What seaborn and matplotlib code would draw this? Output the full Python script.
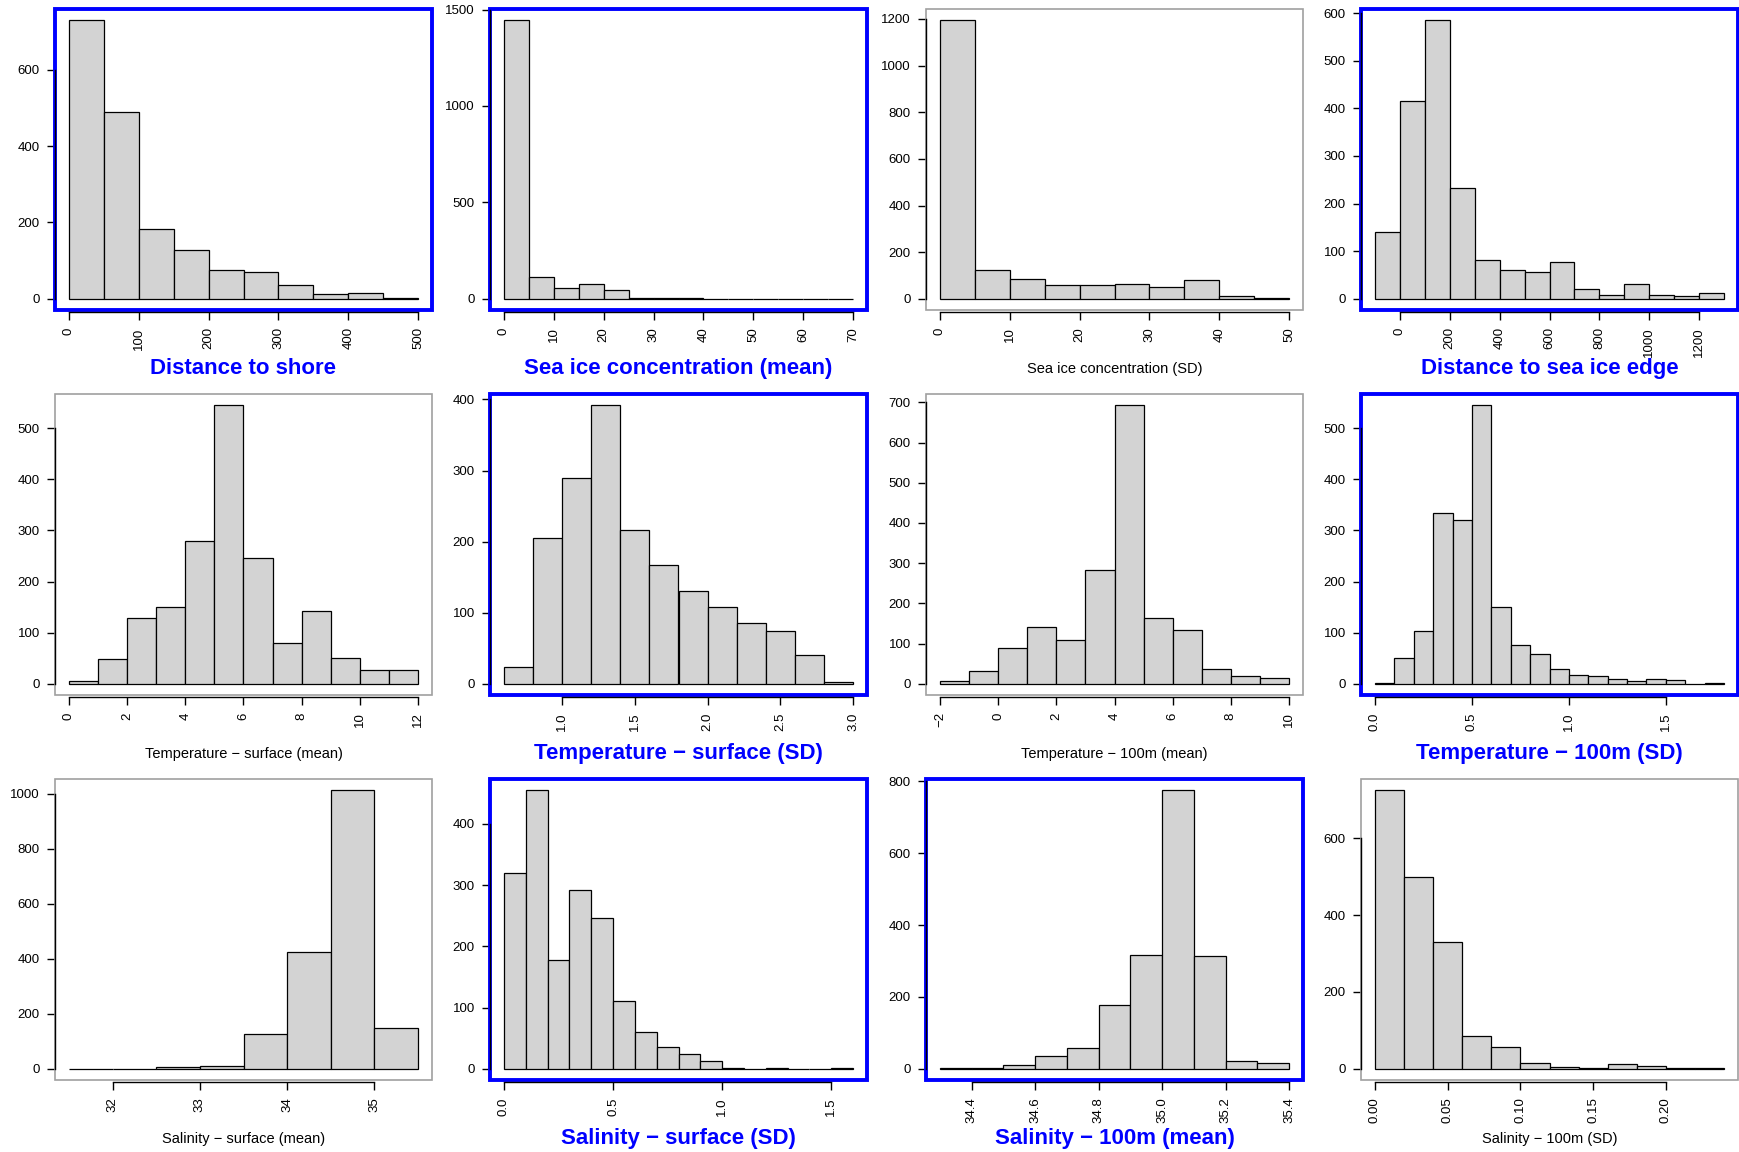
import matplotlib
matplotlib.use('Agg')
import matplotlib.pyplot as plt
from matplotlib.patches import Rectangle
import seaborn as sns
import numpy as np
import pandas as pd

# bin counts (R hist style)
shore_counts = [730, 490, 182, 128, 75, 70, 37, 12, 15, 3]
ice_mean_counts = [1445, 115, 55, 75, 45, 5, 3, 5, 0, 0, 0, 0, 0, 1]
ice_sd_counts = [1195, 125, 85, 60, 58, 63, 52, 80, 12, 4]
ice_edge_counts = [140, 415, 585, 232, 82, 60, 57, 78, 20, 8, 32, 8, 6, 13]
temp_surf_mean_counts = [5, 48, 128, 150, 280, 545, 247, 80, 142, 50, 27, 28]
temp_surf_sd_counts = [23, 205, 290, 392, 217, 167, 130, 108, 85, 75, 40, 3]
temp_100_mean_counts = [8, 32, 90, 142, 110, 283, 693, 163, 135, 38, 20, 15]
temp_100_sd_counts = [1, 50, 103, 335, 321, 545, 150, 75, 58, 30, 17, 15, 10, 5, 10, 7, 0, 2]
sal_surf_mean_counts = [1, 1, 7, 12, 125, 423, 1013, 148]
sal_surf_sd_counts = [320, 455, 177, 292, 246, 111, 60, 35, 25, 13, 1, 0, 2, 0, 0, 1]
sal_100_mean_counts = [3, 2, 12, 37, 58, 177, 316, 775, 315, 22, 15]
sal_100_sd_counts = [725, 500, 330, 85, 58, 15, 4, 1, 12, 8, 3, 1]

# break ranges (first, last break) for each histogram
shore_range = (0, 500)
ice_mean_range = (0, 70)
ice_sd_range = (0, 50)
ice_edge_range = (-100, 1300)
temp_surf_mean_range = (0, 12)
temp_surf_sd_range = (0.6, 3.0)
temp_100_mean_range = (-2, 10)
temp_100_sd_range = (0, 1.8)
sal_surf_mean_range = (31.5, 35.5)
sal_surf_sd_range = (0, 1.6)
sal_100_mean_range = (34.3, 35.4)
sal_100_sd_range = (0, 0.24)

# axis tick values
shore_xticks = [0, 100, 200, 300, 400, 500]
ice_mean_xticks = [0, 10, 20, 30, 40, 50, 60, 70]
ice_sd_xticks = [0, 10, 20, 30, 40, 50]
ice_edge_xticks = [0, 200, 400, 600, 800, 1000, 1200]
temp_surf_mean_xticks = [0, 2, 4, 6, 8, 10, 12]
temp_surf_sd_xticks = [1.0, 1.5, 2.0, 2.5, 3.0]
temp_100_mean_xticks = [-2, 0, 2, 4, 6, 8, 10]
temp_100_sd_xticks = [0.0, 0.5, 1.0, 1.5]
sal_surf_mean_xticks = [32, 33, 34, 35]
sal_surf_sd_xticks = [0.0, 0.5, 1.0, 1.5]
sal_100_mean_xticks = [34.4, 34.6, 34.8, 35.0, 35.2, 35.4]
sal_100_sd_xticks = [0.00, 0.05, 0.10, 0.15, 0.20]

shore_yticks = [0, 200, 400, 600]
ice_mean_yticks = [0, 500, 1000, 1500]
ice_sd_yticks = [0, 200, 400, 600, 800, 1000, 1200]
ice_edge_yticks = [0, 100, 200, 300, 400, 500, 600]
temp_surf_mean_yticks = [0, 100, 200, 300, 400, 500]
temp_surf_sd_yticks = [0, 100, 200, 300, 400]
temp_100_mean_yticks = [0, 100, 200, 300, 400, 500, 600, 700]
temp_100_sd_yticks = [0, 100, 200, 300, 400, 500]
sal_surf_mean_yticks = [0, 200, 400, 600, 800, 1000]
sal_surf_sd_yticks = [0, 100, 200, 300, 400]
sal_100_mean_yticks = [0, 200, 400, 600, 800]
sal_100_sd_yticks = [0, 200, 400, 600]

labels = [
    'Distance to shore', 'Sea ice concentration (mean)',
    'Sea ice concentration (SD)', 'Distance to sea ice edge',
    'Temperature \u2212 surface (mean)', 'Temperature \u2212 surface (SD)',
    'Temperature \u2212 100m (mean)', 'Temperature \u2212 100m (SD)',
    'Salinity \u2212 surface (mean)', 'Salinity \u2212 surface (SD)',
    'Salinity \u2212 100m (mean)', 'Salinity \u2212 100m (SD)',
]
selected = [True, True, False, True,
            False, True, False, True,
            False, True, True, False]

panels = [
    (shore_counts, shore_range, shore_xticks, shore_yticks, '{:.0f}'),
    (ice_mean_counts, ice_mean_range, ice_mean_xticks, ice_mean_yticks, '{:.0f}'),
    (ice_sd_counts, ice_sd_range, ice_sd_xticks, ice_sd_yticks, '{:.0f}'),
    (ice_edge_counts, ice_edge_range, ice_edge_xticks, ice_edge_yticks, '{:.0f}'),
    (temp_surf_mean_counts, temp_surf_mean_range, temp_surf_mean_xticks, temp_surf_mean_yticks, '{:.0f}'),
    (temp_surf_sd_counts, temp_surf_sd_range, temp_surf_sd_xticks, temp_surf_sd_yticks, '{:.1f}'),
    (temp_100_mean_counts, temp_100_mean_range, temp_100_mean_xticks, temp_100_mean_yticks, '{:.0f}'),
    (temp_100_sd_counts, temp_100_sd_range, temp_100_sd_xticks, temp_100_sd_yticks, '{:.1f}'),
    (sal_surf_mean_counts, sal_surf_mean_range, sal_surf_mean_xticks, sal_surf_mean_yticks, '{:.0f}'),
    (sal_surf_sd_counts, sal_surf_sd_range, sal_surf_sd_xticks, sal_surf_sd_yticks, '{:.1f}'),
    (sal_100_mean_counts, sal_100_mean_range, sal_100_mean_xticks, sal_100_mean_yticks, '{:.1f}'),
    (sal_100_sd_counts, sal_100_sd_range, sal_100_sd_xticks, sal_100_sd_yticks, '{:.2f}'),
]

sns.set_style('ticks')
plt.rcParams['font.family'] = ['Liberation Sans', 'DejaVu Sans']

W, H = 1739, 1152
fig = plt.figure(figsize=(W / 100, H / 100), dpi=100)

col_left = [55, 490, 926, 1361]
row_top = [9, 394, 779]
box_w, box_h = 377, 301

for i, (counts, (lo, hi), xt, yt, fmt) in enumerate(panels):
    r, c = divmod(i, 4)
    ax = fig.add_axes([col_left[c] / W, 1 - (row_top[r] + box_h) / H, box_w / W, box_h / H])

    edges = np.linspace(lo, hi, len(counts) + 1)
    df = pd.DataFrame({'value': (edges[:-1] + edges[1:]) / 2, 'count': counts})
    sns.histplot(data=df, x='value', weights='count', bins=edges.tolist(), ax=ax,
                 color='#D3D3D3', edgecolor='black', linewidth=0.9, alpha=1)

    # R style 4% padding
    span = hi - lo
    ymax = max(counts)
    ax.set_xlim(lo - 0.04 * span, hi + 0.04 * span)
    ax.set_ylim(-0.04 * ymax, 1.04 * ymax)

    ax.set_xticks(xt, labels=[fmt.format(v).replace('-', '\u2212') for v in xt])
    ax.set_yticks(yt, labels=[str(v) for v in yt])
    ax.tick_params(axis='both', which='major', direction='out', length=6, width=1,
                   pad=5, colors='black', labelsize=9.5, bottom=True, left=True)
    ax.tick_params(axis='x', labelrotation=90)
    ax.set_xlabel('')
    ax.set_ylabel('')

    for s in ['top', 'right']:
        ax.spines[s].set_visible(False)
    ax.spines['bottom'].set_bounds(xt[0], xt[-1])
    ax.spines['bottom'].set_position(('outward', 1.5))
    ax.spines['left'].set_bounds(yt[0], yt[-1])
    for s in ['bottom', 'left']:
        ax.spines[s].set_color('black')
        ax.spines[s].set_linewidth(1)
        ax.spines[s].set_zorder(6)

    if selected[i]:
        box = Rectangle((0, 0), 1, 1, transform=ax.transAxes, fill=False,
                        edgecolor='#0000FF', linewidth=2.8, clip_on=False, zorder=5)
        ax.text(0.5, -0.195, labels[i], transform=ax.transAxes, ha='center', va='center',
                fontsize=16, fontweight='bold', color='#0000FF')
    else:
        box = Rectangle((0, 0), 1, 1, transform=ax.transAxes, fill=False,
                        edgecolor='#A0A0A0', linewidth=1.2, clip_on=False, zorder=5)
        ax.text(0.5, -0.195, labels[i], transform=ax.transAxes, ha='center', va='center',
                fontsize=10.5, color='black')
    ax.add_patch(box)

fig.savefig('out.png', dpi=100)
plt.close(fig)
